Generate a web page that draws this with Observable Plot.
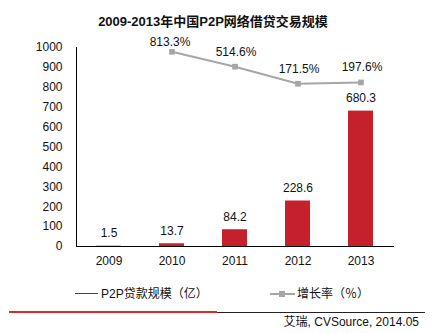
<!DOCTYPE html>
<html>
<head>
<meta charset="utf-8">
<script src="https://cdn.jsdelivr.net/npm/d3@7"></script>
<script src="https://cdn.jsdelivr.net/npm/@observablehq/plot@0.6"></script>
<style>
  body { margin: 0; background: #fff; font-family: "Liberation Sans", Arial, "Noto Sans CJK SC", sans-serif; }
  #wrap { position: relative; width: 432px; height: 333px; overflow: hidden; background: #fff; }
  #title { position: absolute; left: 0; width: 426px; top: 13px; text-align: center; font-size: 13px; font-weight: bold; color: #111; font-family: "Liberation Sans", Arial, "Noto Sans CJK SC", sans-serif; line-height: 18px; }
  #chart { position: absolute; left: 0; top: 30px; }
  #legend { position: absolute; top: 286px; left: 0; width: 432px; height: 16px; font-size: 12px; color: #111; }
  .li { position: absolute; top: 0; line-height: 16px; white-space: nowrap; }
  #rule-red { position: absolute; left: 9px; width: 208px; top: 311px; height: 2px; background: #e02a2a; }
  #rule-black { position: absolute; left: 217px; width: 208px; top: 312px; height: 1px; background: #222; }
  #source { position: absolute; right: 13px; top: 314px; font-size: 12px; color: #111; line-height: 16px; }
</style>
</head>
<body>
<div id="wrap">
  <div id="title">2009-2013年中国P2P网络借贷交易规模</div>
  <div id="chart"></div>
  <div id="legend"></div>
  <div id="rule-red"></div>
  <div id="rule-black"></div>
  <div id="source">艾瑞, CVSource, 2014.05</div>
</div>
<script>
// ---- data ----
const years = ["2009", "2010", "2011", "2012", "2013"];
const loanScale = [1.5, 13.7, 84.2, 228.6, 680.3];          // P2P贷款规模（亿）
const growthYears = ["2010", "2011", "2012", "2013"];
const growthRate = [813.3, 514.6, 171.5, 197.6];           // 增长率（%）
const yTicks = [0, 100, 200, 300, 400, 500, 600, 700, 800, 900, 1000];
const growthAxis = [-3100, 900];                           // hidden secondary axis range
const legendLabels = ["P2P贷款规模（亿）", "增长率（％）"];

const barData = years.map((y, i) => ({year: y, value: loanScale[i]}));
// map secondary axis onto primary y units
const toPrimary = d3.scaleLinear(growthAxis, [0, 1000]);
const growthData = growthYears.map((y, i) => ({year: y, g: growthRate[i], y2: toPrimary(growthRate[i])}));

const barColor = "#c4212b";
const lineColor = "#a6a6a6";

const plot = Plot.plot({
  width: 432,
  height: 250,
  marginLeft: 76,
  marginRight: 38,
  marginTop: 17,
  marginBottom: 34,
  style: {fontFamily: "'Liberation Sans', Arial, sans-serif", fontSize: "12px", color: "#111", background: "transparent"},
  x: {domain: years, paddingInner: 0.6, paddingOuter: 0.3, label: null},
  y: {domain: [0, 1000], label: null},
  marks: [
    Plot.barY(barData, {x: "year", y: "value", fill: barColor}),
    Plot.ruleY([0], {stroke: "#000", strokeWidth: 1}),
    Plot.frame({anchor: "left", stroke: "#000"}),
    Plot.axisY({ticks: yTicks, tickFormat: d => String(d), tickSize: 0, tickPadding: 14, fill: "#111", fontSize: 12}),
    Plot.axisX({tickSize: 0, tickPadding: 10, fill: "#111", fontSize: 12}),
    Plot.text(barData, {x: "year", y: "value", text: d => d.value.toFixed(1), dy: -13, fill: "#111", fontSize: 12}),
    Plot.line(growthData, {x: "year", y: "y2", stroke: lineColor, strokeWidth: 2}),
    Plot.dot(growthData, {x: "year", y: "y2", symbol: "square", r: 3.2, fill: lineColor, stroke: "none"}),
    Plot.text(growthData.slice(0, 1), {x: "year", y: "y2", text: d => d.g.toFixed(1) + "%", dx: -2, dy: -10, fill: "#111", fontSize: 12}),
    Plot.text(growthData.slice(1), {x: "year", y: "y2", text: d => d.g.toFixed(1) + "%", dx: 1, dy: -15, fill: "#111", fontSize: 12})
  ]
});
document.getElementById("chart").appendChild(plot);

// legend
const legend = document.getElementById("legend");
legend.innerHTML = `
  <div class="li" style="left:75px;"><span style="display:inline-block;width:23px;height:1px;background:#9b1c22;vertical-align:middle;margin-right:3px;position:relative;top:-1px;"></span>${legendLabels[0]}</div>
  <div class="li" style="left:270px;"><span style="display:inline-block;width:25px;height:2px;background:${lineColor};vertical-align:middle;margin-right:2px;position:relative;top:-1px;"><span style="position:absolute;left:9px;top:-2px;width:6px;height:6px;background:${lineColor};"></span></span>${legendLabels[1]}</div>
`;
</script>
</body>
</html>
